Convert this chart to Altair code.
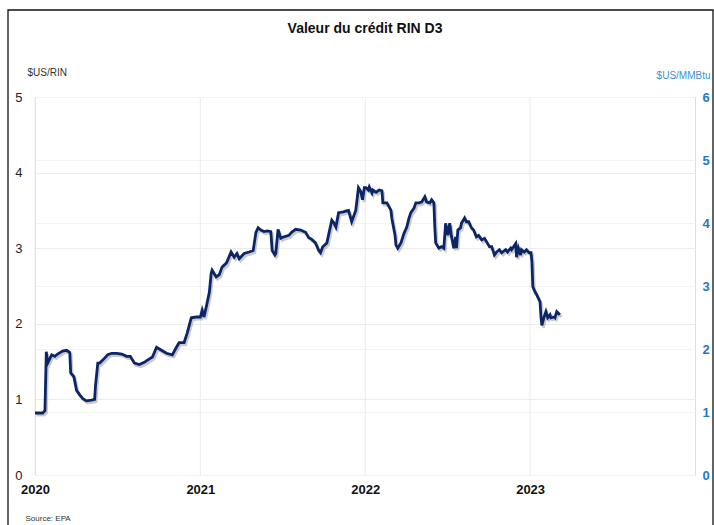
import altair as alt
import pandas as pd

# ---- data ----
dates = [
    "2020-01-01", "2020-01-18", "2020-01-23", "2020-01-26", "2020-01-29", "2020-02-07", "2020-02-14",
    "2020-02-20", "2020-03-02", "2020-03-11", "2020-03-18", "2020-03-20", "2020-03-27", "2020-04-02",
    "2020-04-09", "2020-04-16", "2020-04-24", "2020-05-05", "2020-05-12", "2020-05-14", "2020-05-19",
    "2020-05-23", "2020-05-30", "2020-06-10", "2020-06-19", "2020-06-30", "2020-07-11", "2020-07-22",
    "2020-07-30", "2020-08-08", "2020-08-19", "2020-08-30", "2020-09-06", "2020-09-17", "2020-09-26",
    "2020-10-07", "2020-10-18", "2020-10-31", "2020-11-09", "2020-11-15", "2020-11-26", "2020-12-03",
    "2020-12-12", "2020-12-23",
    "2021-01-01", "2021-01-05", "2021-01-09", "2021-01-14", "2021-01-21", "2021-01-25", "2021-01-27",
    "2021-02-05", "2021-02-12", "2021-02-18", "2021-02-27", "2021-03-01", "2021-03-10", "2021-03-17",
    "2021-03-23", "2021-03-28", "2021-04-08", "2021-04-19", "2021-04-28", "2021-05-04", "2021-05-09",
    "2021-05-15", "2021-05-22", "2021-05-29", "2021-06-06", "2021-06-09", "2021-06-15", "2021-06-17",
    "2021-06-22", "2021-06-28", "2021-07-05", "2021-07-16", "2021-07-22", "2021-07-31", "2021-08-11",
    "2021-08-22", "2021-08-29", "2021-09-04", "2021-09-13", "2021-09-20", "2021-09-24", "2021-09-29",
    "2021-10-08", "2021-10-19", "2021-10-23", "2021-10-28", "2021-11-03", "2021-11-14", "2021-11-18",
    "2021-11-25", "2021-12-02", "2021-12-11", "2021-12-17", "2021-12-22", "2021-12-26", "2021-12-30",
    "2022-01-03", "2022-01-08", "2022-01-10", "2022-01-16", "2022-01-18", "2022-01-25", "2022-02-01",
    "2022-02-07", "2022-02-09", "2022-02-18", "2022-02-27", "2022-03-01", "2022-03-08", "2022-03-10",
    "2022-03-14", "2022-03-21", "2022-03-28", "2022-04-03", "2022-04-08", "2022-04-12", "2022-04-19",
    "2022-04-23", "2022-04-30", "2022-05-06", "2022-05-13", "2022-05-17", "2022-05-24", "2022-05-28",
    "2022-06-02", "2022-06-04", "2022-06-06", "2022-06-13", "2022-06-19", "2022-06-24", "2022-06-28",
    "2022-07-03", "2022-07-07", "2022-07-11", "2022-07-16", "2022-07-20", "2022-07-22", "2022-07-25",
    "2022-07-31", "2022-08-02", "2022-08-09", "2022-08-13", "2022-08-18", "2022-08-24", "2022-08-29",
    "2022-09-04", "2022-09-09", "2022-09-16", "2022-09-22", "2022-09-27", "2022-10-03", "2022-10-08",
    "2022-10-14", "2022-10-19", "2022-10-25", "2022-10-30", "2022-11-08", "2022-11-12", "2022-11-19",
    "2022-11-21", "2022-11-30", "2022-12-02", "2022-12-06", "2022-12-11", "2022-12-13", "2022-12-19",
    "2022-12-24", "2022-12-30",
    "2023-01-03", "2023-01-05", "2023-01-07", "2023-01-12", "2023-01-16", "2023-01-23", "2023-01-25",
    "2023-01-27", "2023-02-01", "2023-02-05", "2023-02-09", "2023-02-14", "2023-02-16", "2023-02-23",
    "2023-02-25", "2023-03-01", "2023-03-08",
]
rin_values = [
    0.82, 0.82, 0.85, 1.63, 1.48, 1.59, 1.57,
    1.60, 1.64, 1.65, 1.62, 1.35, 1.30, 1.12,
    1.06, 1.01, 0.98, 0.99, 1.00, 1.19, 1.48,
    1.48, 1.52, 1.59, 1.61, 1.61, 1.60, 1.57,
    1.57, 1.48, 1.46, 1.49, 1.52, 1.56, 1.69,
    1.65, 1.61, 1.59, 1.69, 1.75, 1.75, 1.88,
    2.08, 2.09,
    2.09, 2.18, 2.09, 2.22, 2.42, 2.67, 2.71,
    2.62, 2.65, 2.75, 2.80, 2.82, 2.95, 2.88,
    2.93, 2.86, 2.93, 2.95, 2.97, 3.21, 3.27,
    3.24, 3.22, 3.23, 3.22, 2.97, 2.91, 2.93,
    3.25, 3.13, 3.15, 3.17, 3.21, 3.25, 3.24,
    3.21, 3.14, 3.12, 3.07, 2.97, 2.94, 3.02,
    3.07, 3.37, 3.34, 3.28, 3.47, 3.48, 3.49,
    3.50, 3.35, 3.50, 3.80, 3.75, 3.64, 3.80,
    3.80, 3.77, 3.81, 3.73, 3.77, 3.74, 3.77,
    3.76, 3.60, 3.60, 3.50, 3.39, 3.17, 3.04,
    3.00, 3.07, 3.20, 3.28, 3.40, 3.47, 3.53,
    3.60, 3.60, 3.61, 3.68, 3.61, 3.60, 3.64,
    3.60, 3.28, 3.07, 3.00, 3.02, 3.00, 3.33,
    3.17, 3.33, 3.15, 3.00, 3.15, 3.00, 3.24,
    3.27, 3.33, 3.40, 3.35, 3.35, 3.27, 3.24,
    3.15, 3.17, 3.11, 3.13, 3.08, 3.02, 3.02,
    2.91, 2.95, 2.98, 2.94, 2.98, 2.95, 3.00,
    2.98, 3.06, 2.88, 3.00, 2.91, 2.98, 2.95,
    2.98, 2.94,
    2.94, 2.82, 2.49, 2.42, 2.38, 2.29, 2.09,
    1.98, 2.09, 2.16, 2.08, 2.12, 2.08, 2.09,
    2.08, 2.16, 2.12,
]
left_ticks = [0, 1, 2, 3, 4, 5]
right_ticks = [0, 1, 2, 3, 4, 5, 6]
year_ticks = [2020, 2021, 2022, 2023]

df = pd.DataFrame({"date": pd.to_datetime(dates), "value": rin_values})
years_df = pd.DataFrame({"date": pd.to_datetime([f"{y}-01-01" for y in year_ticks])})

FONT = "Liberation Sans"
LINE_COLOR = "#0b2566"
RIGHT_COLOR = "#1f78c8"

x_scale = alt.Scale(domain=[alt.DateTime(year=2020, month=1, date=1),
                            alt.DateTime(year=2024, month=1, date=1)])

x_enc = alt.X(
    "date:T",
    scale=x_scale,
    axis=alt.Axis(
        values=[alt.DateTime(year=y, month=1, date=1) for y in year_ticks],
        format="%Y", labelFontWeight="bold", labelFontSize=13, labelColor="#111",
        labelFont=FONT, labelPadding=8, labelAlign="center", labelFlush=False,
        domain=False, ticks=False, grid=False,
        title="Source: EPA", titleFont=FONT, titleFontSize=8, titleFontWeight="normal",
        titleColor="#333", titleX=-10, titleY=43, titleAlign="left", titleBaseline="middle",
        titleAnchor="start",
    ),
)

y_left = alt.Y(
    "value:Q",
    scale=alt.Scale(domain=[0, 5]),
    axis=alt.Axis(
        values=left_ticks, labelFontSize=13, labelColor="#222", labelFont=FONT,
        labelPadding=13, domain=False, ticks=False, grid=True, gridColor="#ececec",
        title="$US/RIN", titleFont=FONT, titleFontSize=10, titleFontWeight="normal",
        titleColor="#333", titleAngle=0, titleX=-8, titleY=-25, titleAlign="left",
        titleBaseline="middle",
    ),
)

year_grid = alt.Chart(years_df).mark_rule(color="#ebebeb", strokeWidth=1).encode(x=x_enc)

shadow = alt.Chart(df).mark_line(
    color="#8a8a8a", strokeWidth=2.8, opacity=0.45, xOffset=1.5, yOffset=2.2,
    interpolate="linear",
).encode(x=x_enc, y=y_left)

line = alt.Chart(df).mark_line(
    color=LINE_COLOR, strokeWidth=2.8, interpolate="linear",
).encode(x=x_enc, y=y_left)

frame = alt.Chart(alt.Data(values=[{"k": 1}])).mark_rect(
    fill="transparent", stroke="#111", strokeWidth=1.3,
).encode(
    x=alt.value(-27), x2=alt.value(678), y=alt.value(-87), y2=alt.value(440)
)

left = alt.layer(frame, year_grid, shadow, line)

right = alt.Chart(df).mark_line(opacity=0).encode(
    x=x_enc,
    y=alt.Y(
        "value:Q",
        scale=alt.Scale(domain=[0, 6]),
        axis=alt.Axis(
            orient="right", values=right_ticks, labelFontSize=13, labelFontWeight="bold",
            labelColor=RIGHT_COLOR, labelFont=FONT, labelPadding=7, domain=False, ticks=False,
            grid=True, gridColor="#f3f3f3",
            title="$US/MMBtu", titleFont=FONT, titleFontSize=10, titleFontWeight="normal",
            titleColor="#3a8fd6", titleAngle=0, titleX=15, titleY=-22, titleAlign="right",
            titleBaseline="middle",
        ),
    ),
)

chart = alt.layer(left, right).resolve_scale(y="independent").properties(
    width=660,
    height=378,
    padding={"left": 35, "top": 97, "right": 19, "bottom": 50},
    autosize=alt.AutoSizeParams(type="none"),
    title=alt.TitleParams(
        "Valeur du crédit RIN D3", font=FONT, fontSize=14, fontWeight="bold",
        color="#111", anchor="middle", frame="group", offset=0, dy=27,
    ),
).configure_view(stroke="transparent", strokeWidth=0).configure(background="white")

chart.save("out.html", embed_options={"renderer": "svg", "actions": False})
